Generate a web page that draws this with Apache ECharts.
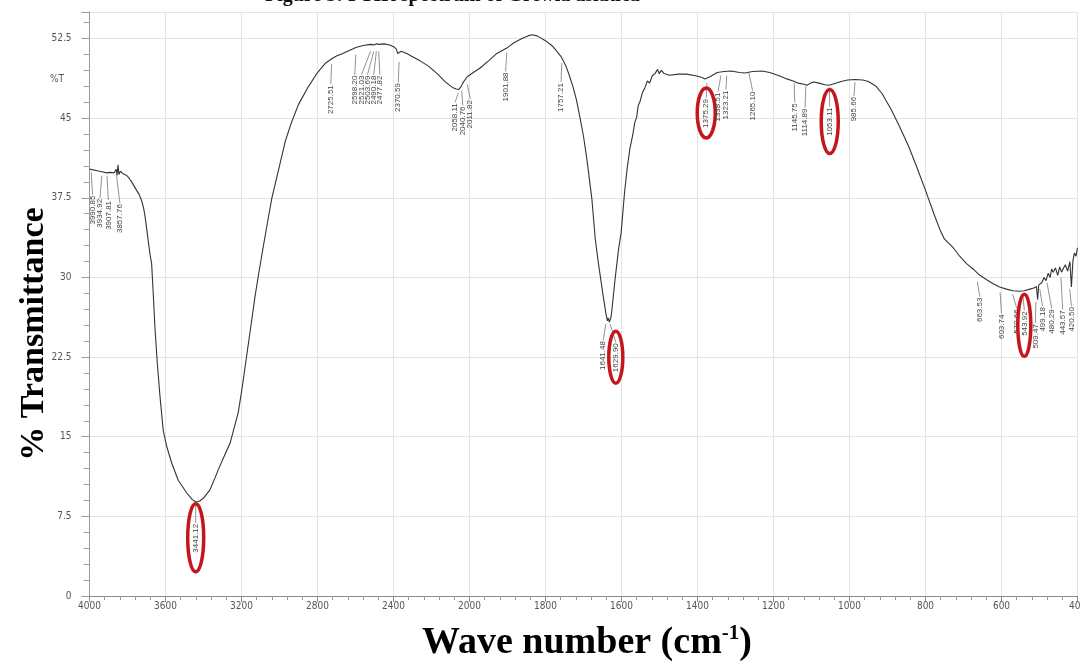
<!DOCTYPE html>
<html><head><meta charset="utf-8">
<script src="https://cdn.jsdelivr.net/npm/echarts@6/dist/echarts.min.js"></script>
<style>html,body{margin:0;padding:0;background:#fff}#c{width:1080px;height:663px}</style>
</head><body><div id="c"></div>
<script>
// ---- data ----
const wavenumbers = [4000,3990,3960,3935,3910,3890,3870,3860,3855,3850,3845,3838,3825,3804,3790,3778,3765,3752,3738,3725,3715,3708,3699,3690,3680,3673,3664,3655,3643,3629,3612,3594,3567,3533,3488,3460,3441,3420,3401,3366,3340,3322,3290,3260,3217,3195,3173,3150,3129,3110,3094,3067,3040,3000,2970,2937,2900,2847,2800,2757,2725,2700,2667,2630,2598,2560,2521,2503,2490,2478,2450,2420,2396,2385,2378,2370,2360,2352,2330,2307,2260,2216,2170,2126,2090,2070,2058,2045,2036,2012,1990,1973,1950,1928,1902,1883,1862,1846,1835,1822,1800,1782,1770,1759,1746,1737,1728,1719,1710,1700,1691,1678,1669,1661,1648,1641,1637,1635,1632,1628,1626,1617,1608,1601,1592,1585,1578,1570,1565,1560,1556,1551,1545,1538,1532,1526,1519,1512,1505,1501,1495,1488,1474,1450,1429,1405,1390,1380,1375,1365,1348,1330,1311,1290,1275,1255,1230,1210,1185,1165,1148,1135,1120,1112,1100,1094,1080,1065,1055,1045,1022,1005,986,965,950,930,914,890,868,845,823,800,777,762,750,727,710,692,675,657,640,622,605,587,570,552,540,525,515,508,505,502,494,488,483,477,472,468,464,458,452,447,442,438,432,426,420,416,412,408,404,400];
const transmittance = [40.2,40.1,40.05,39.95,39.85,39.9,39.85,40.2,39.6,40.6,39.7,40.0,39.8,39.6,39.3,39.0,38.6,38.2,37.8,37.2,36.5,35.8,34.6,33.3,32.0,31.3,28.3,25.1,21.9,18.8,15.6,14.1,12.5,10.9,9.7,9.1,8.85,8.95,9.2,10.0,11.1,11.9,13.2,14.4,17.3,19.8,22.6,25.5,28.2,30.3,32.0,34.8,37.5,40.5,42.8,44.6,46.3,48.0,49.3,50.2,50.6,50.85,51.1,51.4,51.65,51.85,51.95,51.9,52.0,51.95,52.0,51.9,51.7,51.5,51.1,51.15,51.3,51.2,51.1,50.85,50.4,49.9,49.2,48.4,47.9,47.75,47.7,47.95,48.3,48.9,49.3,49.7,50.4,51.1,51.6,52.1,52.5,52.75,52.85,52.75,52.3,51.8,51.3,50.8,49.9,49.0,48.0,46.8,45.2,43.3,41.1,37.4,33.6,31.4,28.2,26.6,25.9,26.2,25.8,26.2,26.7,29.8,32.6,34.2,38.0,40.3,42.1,43.5,44.6,45.1,46.2,46.6,47.4,47.9,48.5,48.3,49.0,49.2,49.6,49.2,49.5,49.2,49.05,49.15,49.15,49.0,48.85,48.7,48.65,48.95,49.3,49.4,49.45,49.3,49.25,49.4,49.45,49.3,49.0,48.7,48.5,48.3,48.2,48.1,48.35,48.4,48.3,48.15,48.1,48.2,48.45,48.6,48.65,48.6,48.45,48.0,47.3,45.8,44.2,42.4,40.4,38.2,35.9,34.5,33.6,32.8,32.0,31.3,30.8,30.2,29.8,29.4,29.1,28.9,28.75,28.7,28.75,28.9,29.0,29.15,27.9,29.3,29.5,30.0,29.7,30.4,30.0,30.8,30.5,30.9,30.2,31.0,30.5,30.8,31.2,30.6,31.5,29.1,31.6,32.3,32.0,32.8];
const xTickLabels = ['4000','3600','3200','2800','2400','2000','1800','1600','1400','1200','1000','800','600','400'];
const yTickValues = [0,7.5,15,22.5,30,37.5,45,52.5];

// peak labels printed on the spectrum
const peakLabels = ['3990.85','3934.92','3907.81','3857.76','3441.12','2725.51','2598.20','2521.03','2503.69','2490.18','2477.82','2370.59','2058.11','2040.76','2011.82','1901.88','1757.21','1641.48','1629.90','1375.29','1338.51','1323.21','1265.10','1145.75','1114.89','1053.11','985.66','663.53','603.74','570.66','543.92','509.47','499.18','480.29','443.57','420.50'];
// label placement (in chart units): where the text sits and where its leader line starts
const labelTextWn = [3984,3945,3901,3840,3441,2730,2604,2568,2537,2504,2472,2375,2076,2036,1998,1905,1759,1648,1615,1377,1346,1325,1255,1144,1117,1052,988,657,600,560,540,511,492,468,439,416];
const labelLineTop = [39.9,39.6,39.6,39.6,8.6,50.1,51.0,51.3,51.3,51.3,51.3,50.3,47.4,47.6,48.2,51.2,50.2,25.6,25.6,48.3,49.0,49.0,49.3,48.3,48.0,47.9,48.4,29.6,28.6,28.4,28.4,27.7,28.9,29.5,30.0,28.9];
const labelTextTop = [37.8,37.5,37.3,37.0,6.9,48.2,49.1,49.1,49.1,49.1,49.1,48.4,46.5,46.2,46.8,49.4,48.4,24.1,23.9,46.9,47.5,47.7,47.6,46.5,46.0,46.1,47.1,28.2,26.6,27.1,26.9,25.7,27.3,27.1,27.0,27.3];
// peaks circled in red, with ellipse half-sizes in px
const circledPeaks = ['3441.12','1629.90','1375.29','1053.11','543.92'];
const circleRadii = [[8,34],[7,26],[9,25],[8.5,32],[6.5,31]];

// ---- piecewise wavenumber scale (4000-2000 at 400/div, 2000-400 at 200/div) ----
function toU(wn){ return wn >= 2000 ? (4000 - wn) / 400 : 5 + (2000 - wn) / 200; }

const chart = echarts.init(document.getElementById('c'), null, {renderer:'canvas'});
const tickFont = "'Liberation Sans Narrow','DejaVu Sans Condensed',sans-serif";
const option = {
  animation:false,
  backgroundColor:'#fff',
  grid:{left:89.5,right:2.5,top:12,bottom:67,containLabel:false,outerBoundsMode:'none'},
  xAxis:{
    type:'value',min:0,max:13,interval:1,
    axisLine:{show:true,lineStyle:{color:'#8a8a8a',width:1}},
    axisTick:{show:true,length:6,lineStyle:{color:'#8a8a8a'}},
    minorTick:{show:true,splitNumber:5,length:4,lineStyle:{color:'#9a9a9a'}},
    splitLine:{show:true,lineStyle:{color:'#e4e4e4',width:1}},
    axisLabel:{formatter:v=>xTickLabels[Math.round(v)],margin:5,fontSize:10,color:'#555',fontFamily:tickFont,showMaxLabel:true,showMinLabel:true}
  },
  yAxis:{
    type:'value',min:0,max:55,interval:7.5,
    axisLine:{show:true,lineStyle:{color:'#9a9a9a',width:1}},
    axisTick:{show:true,length:8,lineStyle:{color:'#9a9a9a'}},
    minorTick:{show:true,splitNumber:5,length:6,lineStyle:{color:'#a5a5a5'}},
    splitLine:{show:true,lineStyle:{color:'#e4e4e4',width:1}},
    axisLabel:{formatter:v=>(yTickValues.indexOf(v)>=0?String(v):''),margin:18,fontSize:10,color:'#555',fontFamily:tickFont,showMaxLabel:false}
  },
  graphic:[
    {type:'text',x:265,y:6,style:{text:'Figure 3: FTIR spectrum of Grewia asiatica',font:'bold 20px "Liberation Serif"',fill:'#111',verticalAlign:'bottom',align:'left'}},
    {type:'text',x:64,y:79,style:{text:'%T',font:"10px 'Liberation Sans Narrow','DejaVu Sans Condensed',sans-serif",fill:'#555',align:'right',verticalAlign:'middle'}},
    {type:'text',x:34,y:334,rotation:Math.PI/2,style:{text:'% Transmittance',font:'bold 34px "Liberation Serif"',fill:'#000',align:'center',verticalAlign:'middle'}},
    {type:'text',x:587,y:643,style:{text:'{a|Wave number (cm}{s|-1}{a|)}',align:'center',verticalAlign:'middle',
      rich:{a:{font:'bold 38px "Liberation Serif"',fill:'#000',lineHeight:40},s:{font:'bold 21px "Liberation Serif"',fill:'#000',verticalAlign:'top',lineHeight:40}}}}
  ],
  series:[
    {type:'line',data:wavenumbers.map((w,i)=>[toU(w),transmittance[i]]),symbol:'none',smooth:false,
     lineStyle:{color:'#333',width:1.1},z:2},
    {type:'custom',clip:false,z:3,
     encode:{x:[0,1],y:[2,3]},
     data:peakLabels.map((t,i)=>[toU(parseFloat(t)),toU(labelTextWn[i]),labelLineTop[i],labelTextTop[i],i]),
     renderItem:function(params,api){
       const i = api.value(4);
       const p1 = api.coord([api.value(0),api.value(2)]);
       const p2 = api.coord([api.value(1),api.value(3)]);
       const label = peakLabels[i];
       const children = [
         {type:'line',shape:{x1:p1[0],y1:p1[1],x2:p2[0],y2:p2[1]},style:{stroke:'#777',lineWidth:0.8}},
         {type:'text',x:p2[0],y:p2[1]+1,rotation:Math.PI/2,
          style:{text:label,fill:'#444',font:"8px 'Liberation Sans'",align:'right',verticalAlign:'middle'}}
       ];
       const ci = circledPeaks.indexOf(label);
       if (ci >= 0) {
         children.push({type:'ellipse',shape:{cx:p2[0],cy:p2[1]+15,rx:circleRadii[ci][0],ry:circleRadii[ci][1]},
           style:{fill:'none',stroke:'#c3161d',lineWidth:3.5}});
       }
       return {type:'group',children:children};
     }}
  ]
};
chart.setOption(option);
</script>
</body></html>
